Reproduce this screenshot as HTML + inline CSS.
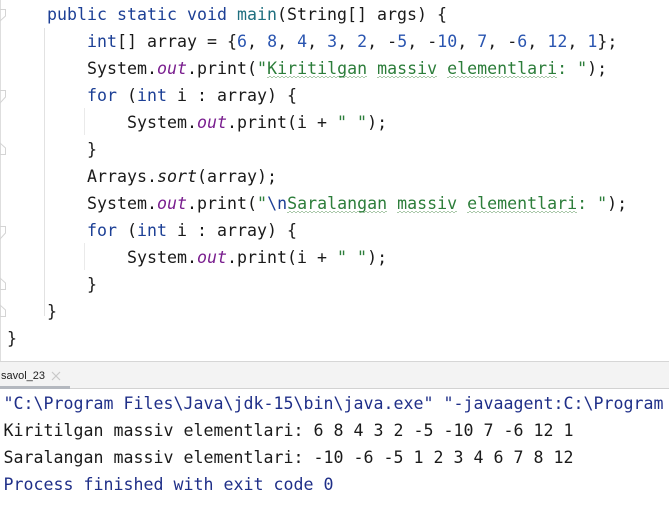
<!DOCTYPE html>
<html><head><meta charset="utf-8"><style>
html,body{margin:0;padding:0;background:#fff}
#p{position:relative;width:669px;height:525px;overflow:hidden;background:#fff;font-family:"DejaVu Sans Mono","Liberation Mono",monospace;font-size:16.6px;color:#1a1a1a}
.l{position:absolute;white-space:pre;line-height:27px;height:27px;letter-spacing:0.01px}
.k{color:#1c3f95}.n{color:#2a55b0}.s{color:#2c7d3a}.o{color:#7a1f8f;font-style:italic}.m{color:#1f6f7f}.i{font-style:italic}
.w{background-image:repeating-linear-gradient(90deg,#a9c8a9 0 2px,transparent 2px 4px),repeating-linear-gradient(90deg,transparent 0 2px,#a9c8a9 2px 4px);background-size:100% 1px,100% 1px;background-repeat:no-repeat;background-position:0 100%,0 calc(100% - 1px)}
.b{position:absolute}
</style></head><body><div id="p">
<div class="b" style="left:0;top:0;width:1px;height:361px;background:#dedede"></div>
<div class="b" style="left:44px;top:28px;width:1px;height:288px;background:#e2e2e2"></div>
<div class="b" style="left:84px;top:108px;width:1px;height:27px;background:#eaeaea"></div>
<div class="b" style="left:84px;top:243px;width:1px;height:27px;background:#eaeaea"></div>
<svg class="b" style="left:0;top:0" width="8" height="361" fill="none" stroke="#d4d4d4">
<path d="M0 9.5H5.5V16L0 21"/><path d="M0 90.5H5.5V97L0 103"/><path d="M0 154.5V143L5.5 148V154.5H0"/><path d="M0 226.5H5.5V233L0 239"/><path d="M0 289.5V278L5.5 283V289.5H0"/><path d="M0 316.5V305L5.5 310V316.5H0"/>
</svg>
<div class="l" style="left:47px;top:1px"><span class="k">public static void</span> <span class="m">main</span>(String[] args) {</div>
<div class="l" style="left:87px;top:28px"><span class="k">int</span>[] array = {<span class="n">6</span>, <span class="n">8</span>, <span class="n">4</span>, <span class="n">3</span>, <span class="n">2</span>, -<span class="n">5</span>, -<span class="n">10</span>, <span class="n">7</span>, -<span class="n">6</span>, <span class="n">12</span>, <span class="n">1</span>};</div>
<div class="l" style="left:87px;top:55px">System.<span class="o">out</span>.print(<span class="s">"<span class="w">Kiritilgan</span> <span class="w">massiv</span> <span class="w">elementlari</span>: "</span>);</div>
<div class="l" style="left:87px;top:82px"><span class="k">for</span> (<span class="k">int</span> i : array) {</div>
<div class="l" style="left:127px;top:109px">System.<span class="o">out</span>.print(i + <span class="s">" "</span>);</div>
<div class="l" style="left:87px;top:136px">}</div>
<div class="l" style="left:87px;top:163px">Arrays.<span class="i">sort</span>(array);</div>
<div class="l" style="left:87px;top:190px">System.<span class="o">out</span>.print(<span class="s">"</span><span class="k">\n</span><span class="s"><span class="w">Saralangan</span> <span class="w">massiv</span> <span class="w">elementlari</span>: "</span>);</div>
<div class="l" style="left:87px;top:217px"><span class="k">for</span> (<span class="k">int</span> i : array) {</div>
<div class="l" style="left:127px;top:244px">System.<span class="o">out</span>.print(i + <span class="s">" "</span>);</div>
<div class="l" style="left:87px;top:271px">}</div>
<div class="l" style="left:47px;top:298px">}</div>
<div class="l" style="left:7px;top:325px">}</div>
<div class="b" style="left:0;top:361px;width:669px;height:28px;background:#f3f3f3;border-top:1px solid #d6d6d6;border-bottom:1px solid #d2d2d2;box-sizing:border-box"></div>
<div class="b" style="left:0;top:386px;width:70px;height:3px;background:#b4b8bf"></div>
<div class="b" style="left:1px;top:367px;font:11px/18px 'Liberation Sans',sans-serif;color:#222">savol_23</div>
<svg class="b" style="left:51px;top:371px" width="10" height="10" stroke="#c8c8c8" stroke-width="1.2"><path d="M1 1L9 9M9 1L1 9"/></svg>
<div class="l" style="left:3.5px;top:390px;color:#1f2f88">"C:\Program Files\Java\jdk-15\bin\java.exe" "-javaagent:C:\Program</div>
<div class="l" style="left:3.5px;top:417px">Kiritilgan massiv elementlari: 6 8 4 3 2 -5 -10 7 -6 12 1</div>
<div class="l" style="left:3.5px;top:444px">Saralangan massiv elementlari: -10 -6 -5 1 2 3 4 6 7 8 12</div>
<div class="l" style="left:3.5px;top:471px;color:#1f2f88">Process finished with exit code 0</div>
</div></body></html>
